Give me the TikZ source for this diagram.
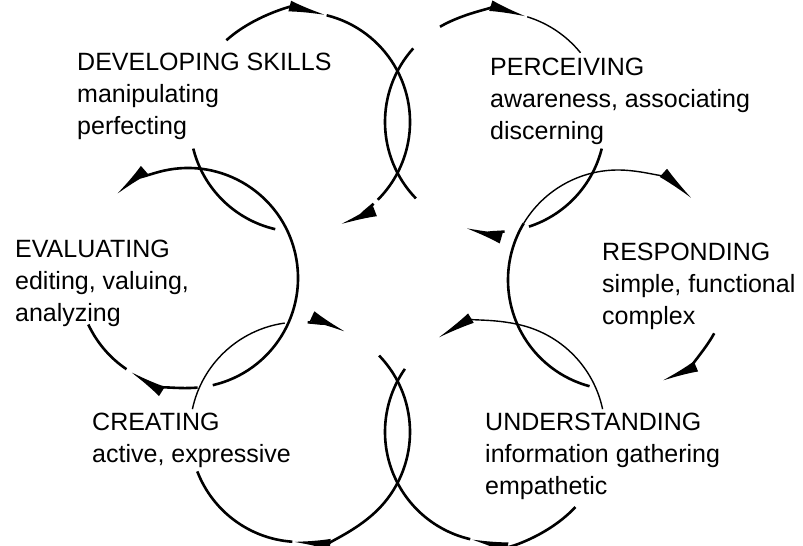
\documentclass[tikz,border=0pt]{standalone}
\usepackage{fontspec}
\setmainfont{Liberation Sans}
\usetikzlibrary{arrows.meta,calc}

\begin{document}
\begin{tikzpicture}[x=1pt,y=1pt,
  ring/.style={line width=2.6pt},
  faint/.style={line width=1.4pt},
  flowhead/.style={-{Latex[length=38pt,width=11pt]}},
  lbl/.style={anchor=north west,inner sep=0pt,align=left,font=\fontsize{25}{32}\selectfont}]
\useasboundingbox (0,0) rectangle (803,546);

% circle centres
\coordinate (dev) at (300,424);
\coordinate (per) at (495,424);
\coordinate (eva) at (188,268);
\coordinate (res) at (618,266);
\coordinate (cre) at (300,114);
\coordinate (und) at (495,114);

% developing skills
\draw[ring,flowhead] ($(dev)+(132:110)$) arc[start angle=132,end angle=76,radius=110];
\draw[ring] ($(dev)+(76:110)$) arc[start angle=76,end angle=-45,radius=110];
\draw[ring] ($(dev)+(194:110)$) arc[start angle=194,end angle=257,radius=110];
\draw[ring,flowhead] ($(dev)+(-48:110)$) arc[start angle=-48,end angle=-69,radius=110];

% perceiving
\draw[ring,flowhead] ($(per)+(120:110)$) arc[start angle=120,end angle=73,radius=110];
\draw[faint] ($(per)+(73:110)$) arc[start angle=73,end angle=39,radius=110];
\draw[ring] ($(per)+(138:110)$) arc[start angle=138,end angle=224,radius=110];
\draw[ring] ($(per)+(-14:110)$) arc[start angle=-14,end angle=-72,radius=110];
\draw[ring,flowhead] ($(per)+(275:110)$) arc[start angle=275,end angle=254,radius=110];

% responding
\draw[faint,flowhead] ($(res)+(149:110)$) arc[start angle=149,end angle=48,radius=110];
\draw[ring] ($(res)+(149:110)$) arc[start angle=149,end angle=255,radius=110];
\draw[ring,flowhead] ($(res)+(-29:110)$) arc[start angle=-29,end angle=-67,radius=110];

% understanding
\draw[faint,flowhead] ($(und)+(12:110)$) arc[start angle=12,end angle=121,radius=110];
\draw[ring,flowhead] ($(und)+(317:110)$) arc[start angle=317,end angle=257,radius=110];
\draw[ring] ($(und)+(257:110)$) arc[start angle=257,end angle=145,radius=110];

% creating
\draw[ring,flowhead] ($(cre)+(44:110)$) arc[start angle=44,end angle=-94,radius=110];
\draw[ring] ($(cre)+(-94:110)$) arc[start angle=-94,end angle=-159,radius=110];
\draw[faint] ($(cre)+(98:110)$) arc[start angle=98,end angle=168,radius=110];
\draw[ring,flowhead] ($(cre)+(86:110)$) arc[start angle=86,end angle=65,radius=110];

% evaluating
\draw[ring,flowhead] ($(eva)+(-77:110)$) arc[start angle=-77,end angle=131,radius=110];
\draw[ring,flowhead] ($(eva)+(275:110)$) arc[start angle=275,end angle=238,radius=110];
\draw[ring] ($(eva)+(236:110)$) arc[start angle=236,end angle=205,radius=110];

% labels
\node[lbl] (devtxt) at (77,493) {DEVELOPING SKILLS\\manipulating\\perfecting};
\node[lbl] (pertxt) at (490,488) {PERCEIVING\\awareness, associating\\discerning};
\node[lbl] (evatxt) at (15,306) {EVALUATING\\editing, valuing,\\analyzing};
\node[lbl] (restxt) at (602,303) {RESPONDING\\simple, functional\\complex};
\node[lbl] (cretxt) at (92,133) {CREATING\\active, expressive};
\node[lbl] (undtxt) at (485,133) {UNDERSTANDING\\information gathering\\empathetic};
\end{tikzpicture}
\end{document}
